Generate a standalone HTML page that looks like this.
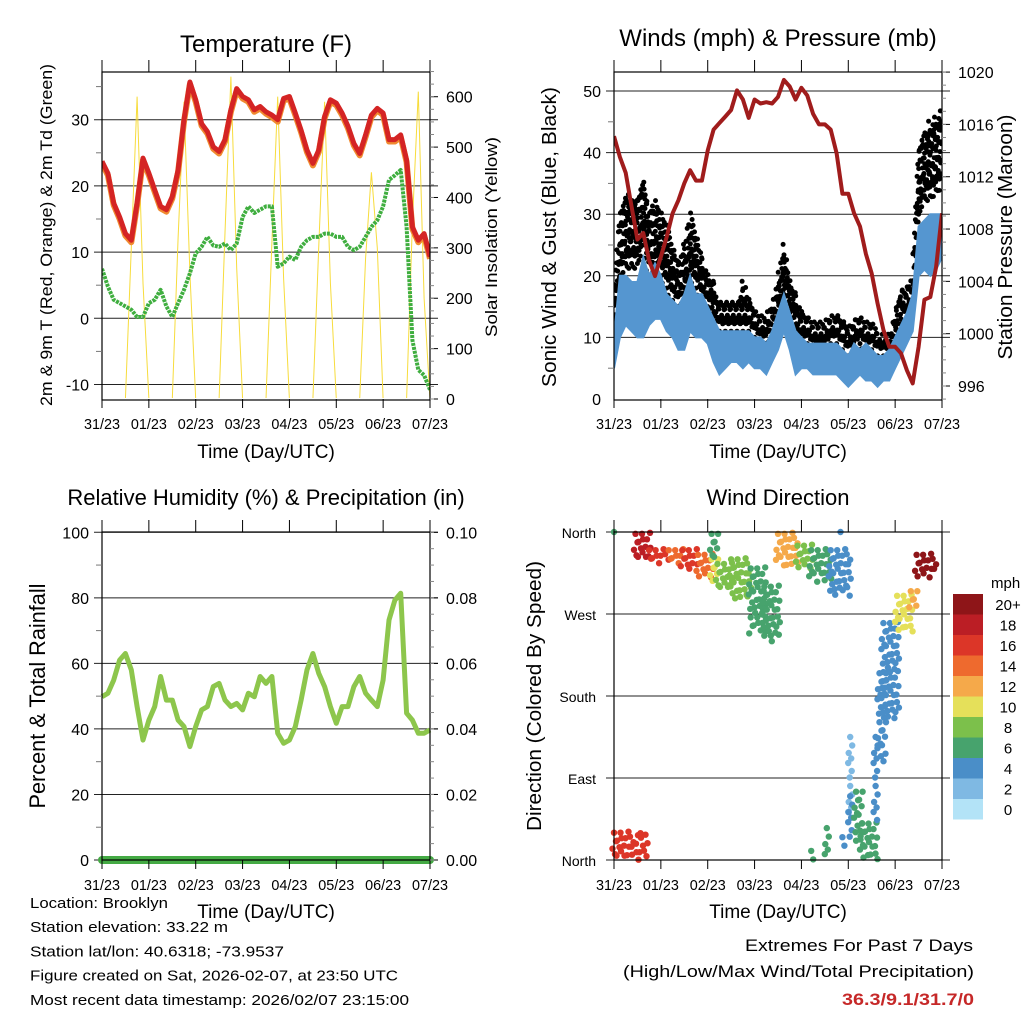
<!DOCTYPE html>
<html><head><meta charset="utf-8"><style>
html,body{margin:0;padding:0;background:#fff;}
svg{display:block;font-family:"Liberation Sans",Arial,sans-serif;}
</style></head><body>
<svg id="fig" width="1024" height="1024" viewBox="0 0 1024 1024" xmlns="http://www.w3.org/2000/svg"></svg>
<script>
// ---- Data (sampled every 3 hours, t = 0..168 h from 31/23 UTC) ----
const dayLabels = ["31/23","01/23","02/23","03/23","04/23","05/23","06/23","07/23"];
const temp2m = [23.7,21.9,17.4,15.3,12.8,11.8,17.4,24.2,21.9,19.4,16.9,16.4,18.4,22.4,30,35.7,33,29.4,28.2,25.9,25.2,27,31.5,34.7,33.5,33,31.5,32,31.2,30.7,30,33.2,33.5,31,28.4,25.4,23.4,25.4,30.5,33,32.5,31,29,26.4,24.9,27.7,30.7,31.7,31,27,27,27.7,23.9,13.8,11.8,12.8,9.3];
const dewpt = [7.5,4.8,2.8,2.3,1.8,1.3,0.2,0.2,2.3,2.8,4.3,1.8,0.2,2.3,4.3,6.8,9.8,10.8,12.3,11,10.8,11.3,10.3,11.3,15.3,16.9,15.9,16.4,16.9,16.9,7.8,8.3,9.3,8.8,10.8,11.8,12.3,12.3,12.8,12.8,12.3,12.3,10.8,10.3,10.8,12.3,13.8,14.8,16.9,20.9,21.6,22.4,13.8,-3.3,-7.8,-8.6,-10.8];
const solar = [0,0,0,0,0,300,600,230,0,0,0,0,0,320,590,250,0,0,0,0,0,330,640,260,0,0,0,0,0,310,600,240,0,0,0,0,0,300,590,230,0,0,0,0,0,280,450,300,0,0,0,0,0,350,610,200,0];
const windLo = [5,10,12,11,10,10,12,13,13,11,10,8,8,11,10,10,9,6,4,5,6,6,5,6,5,5,4,6,8,11,8,4,5,5,4,4,4,4,4,3,2,3,4,3,3,2,3,3,5,7,9,11,20,21,20,21,23];
const windHi = [10,20,20,19,19,23,20,22,20,17,16,15,17,20,17,17,15,13,11,11,11,11,11,11,10,10,9,11,14,17,14,11,10,9,9,9,9,9,9,8,7,9,8,9,8,7,7,8,10,12,14,17,28,29,30,30,30];
const gustLo = [10,20,22,22,22,25,20,22,20,18,16,15,17,20,18,16,15,12,11,11,11,11,11,11,10,9,9,11,13,17,14,10,9,9,8,8,8,9,9,8,7,8,9,8,8,7,7,7,9,13,13,14,30,33,33,34,35];
const gustHi = [17,30,34,33,33,36,30,32,30,28,25,22,25,30,27,23,21,19,16,16,16,16,19,17,14,13,13,15,20,25,20,17,15,13,12,12,12,13,14,13,12,13,13,12,12,11,10,10,14,18,19,20,41,44,45,46,47];
const pressure = [1015.1,1013.5,1012.3,1009.7,1007.2,1007.7,1005.6,1004.4,1005.9,1007.4,1009.2,1010.2,1011.5,1012.5,1011.7,1011.7,1014,1015.6,1016.1,1016.6,1017.1,1018.6,1017.9,1016.5,1017.9,1017.6,1017.7,1017.6,1018.1,1019.4,1018.9,1017.9,1018.8,1018.2,1016.8,1016,1016,1015.6,1013.8,1010.7,1010.7,1009.2,1008.2,1006.1,1004.6,1002.3,1000.3,999,999,998.5,997.2,996.2,999,1002.6,1002.8,1005.1,1009.2];
const rh = [49.8,50.9,54.9,61,63,58,46.8,36.6,42.7,46.8,56,48.8,48.8,42.7,40.7,34.6,40.7,45.8,46.8,52.9,53.9,48.8,46.8,47.8,45.8,50.9,49.8,56,53.9,56,38.7,35.6,36.6,40.7,48.8,58,63,57,52.9,46.8,41.7,46.8,46.8,52.9,56,50.9,48.8,46.8,54.9,73.2,79.3,81.4,44.8,42.7,38.7,38.7,39.7];
const precip = [0,0,0,0,0,0,0,0,0,0,0,0,0,0,0,0,0,0,0,0,0,0,0,0,0,0,0,0,0,0,0,0,0,0,0,0,0,0,0,0,0,0,0,0,0,0,0,0,0,0,0,0,0,0,0,0,0];
// wind-direction clusters: start hour, end hour, low deg, high deg, speed mph
const dirT0 = [0,11,18,28,35,43,50,50,53,60,70,77,84,94,101,111,116,0,101,109,117,121,121,124,127,134,136,138,145,152,155];
const dirT1 = [1,18,28,35,43,50,53,53,60,70,77,84,94,101,111,121,118,18,102,111,118,122,122,127,134,136,139,145,152,155,166];
const dirLo = [358,330,325,325,320,310,305,330,295,285,250,240,320,320,305,290,355,2,0,0,10,50,20,20,0,40,110,155,250,275,310];
const dirHi = [360,358,340,340,340,335,330,358,325,330,320,300,358,345,340,340,360,30,10,35,25,135,70,75,40,135,205,260,290,295,335];
const dirSpd = [6,19,17,14,17,14,11,7,9,8,6,7,13,9,6,5,4,17,7,7,4,2,5,6,7,4,4,5,10,13,20];
const legendLabels = ["20+","18","16","14","12","10","8","6","4","2","0"];
const legendColors = ["#8e1518","#bb1e25","#dc3628","#ee6a2e","#f5a94a","#e5e05a","#7cc04b","#47a36d","#4a8ec8","#7fb9e3","#b3e3f7"];

const NS = "http://www.w3.org/2000/svg";
const svg = document.getElementById("fig");
function el(tag, attrs, parent, text){
  const e = document.createElementNS(NS, tag);
  for (const k in attrs) e.setAttribute(k, attrs[k]);
  if (text !== undefined) e.textContent = text;
  (parent || svg).appendChild(e);
  return e;
}
const W = 328, H = 327, HOURS = 168;
const tAt = i => i*3;
function spdColor(s){ let idx = Math.min(10, Math.floor(s/2)); return legendColors[10-idx]; }

function panel(name){
  const g = el("g", {});
  
  
  return g;
}
function xAxis(g, x0, yb, ytop){
  const ax = el("g", {}, g);
  
  
  for (let d=0; d<8; d++){
    const x = x0 + d*W/7;
    el("line",{x1:x,y1:ytop-12,x2:x,y2:ytop,stroke:"#000","stroke-width":1},ax);
    el("line",{x1:x,y1:yb,x2:x,y2:yb+9,stroke:"#000","stroke-width":1},ax);
    const t = el("text",{x:x,y:yb+30,"text-anchor":"middle","font-size":15,textLength:36,lengthAdjust:"spacingAndGlyphs"},ax,dayLabels[d]);
    
    
  }
}
function frame(g, x0, y0){
  el("rect",{x:x0,y:y0,width:W,height:H+1,fill:"none",stroke:"#000","stroke-width":1.2},g);
}
function grid(g, x0, vals, yf){
  for (const v of vals){ const y=yf(v);
    el("line",{x1:x0-8,y1:y,x2:x0+W+8,y2:y,stroke:"#222","stroke-width":1},g); }
}
function leftTicks(g, x0, majors, labels, minors, yf){
  const ax = el("g",{},g);
  
  
  majors.forEach((v,i)=>{ const y=yf(v);
    const t=el("text",{x:x0-13,y:y+6,"text-anchor":"end","font-size":16},ax,labels[i]);
    
    
  });
  minors.forEach(v=>{ const y=yf(v); el("line",{x1:x0-6,y1:y,x2:x0,y2:y,stroke:"#777","stroke-width":1},ax); });
}
function rightTicks(g, xr, majors, labels, minors, yf){
  const ax = el("g",{},g);
  
  
  majors.forEach((v,i)=>{ const y=yf(v);
    el("line",{x1:xr,y1:y,x2:xr+8,y2:y,stroke:"#000","stroke-width":1},ax);
    const t=el("text",{x:xr+16,y:y+6,"text-anchor":"start","font-size":16},ax,labels[i]);
    
    
  });
  minors.forEach(v=>{ const y=yf(v); el("line",{x1:xr,y1:y,x2:xr+4,y2:y,stroke:"#888","stroke-width":1},ax); });
}
function title(txt, x, y, size, name){
  const t = el("text",{x:x,y:y,"text-anchor":"middle","font-size":size},svg,txt);
  
  
}
function vlabel(g, txt, x, y, size, name, len){
  const a = {x:0,y:0,"text-anchor":"middle","font-size":size,transform:`translate(${x},${y}) rotate(-90)`};
  if (len){ a.textLength=len; a.lengthAdjust="spacingAndGlyphs"; }
  const t = el("text",a,g,txt);
  
  
}
function linePath(arr, xf, yf){ return arr.map((v,i)=>(i?"L":"M")+xf(tAt(i)).toFixed(1)+","+yf(v).toFixed(1)).join(""); }
function range(a,b,s){ const r=[]; for(let v=a; v<=b+1e-9; v+=s) r.push(+v.toFixed(4)); return r; }

// ===== Panel 1: Temperature =====
{
  const x0=102, y0=72;
  const g = panel("temperature-panel");
  const xf = t => x0 + t*W/HOURS;
  const yT = v => 318.3 - v*6.62;
  const yS = s => 399 - s*0.5038;
  title("Temperature (F)", 266, 52, 24, "temperature-title");
  grid(g, x0, [30,20,10,0,-10], yT);
  const cl = el("clipPath",{id:"c1"},g); el("rect",{x:x0,y:y0,width:W,height:H-1},cl);
  const pg = el("g",{"clip-path":"url(#c1)"},g);
  const s = el("path",{d:linePath(solar,xf,yS),fill:"none",stroke:"#f7dc3c","stroke-width":1},pg);
  
  
  const o = el("path",{d:linePath(temp2m.map(v=>v-0.3),xf,yT),fill:"none",stroke:"#f08a30","stroke-width":6,"stroke-linejoin":"round"},pg);
  
  
  const r = el("path",{d:linePath(temp2m,xf,yT),fill:"none",stroke:"#d42424","stroke-width":5,"stroke-linejoin":"round"},pg);
  
  
  const gr = el("path",{d:linePath(dewpt,xf,yT),fill:"none",stroke:"#3fae3f","stroke-width":4,"stroke-linejoin":"round","stroke-dasharray":"3 1"},pg);
  
  
  frame(g,x0,y0);
  xAxis(g,x0,399,72);
  leftTicks(g,x0,[30,20,10,0,-10],["30","20","10","0","-10"],[35,25,15,5,-5],yT);
  rightTicks(g,x0+W,[0,100,200,300,400,500,600],["0","100","200","300","400","500","600"],range(0,650,25),yS);
  vlabel(g,"2m & 9m T (Red, Orange) & 2m Td (Green)",52,235,17,"temp-y-axis-title",342);
  vlabel(g,"Solar Insolation (Yellow)",497,237,17,"solar-y-axis-title",200);
  const xt = el("text",{x:266,y:458,"text-anchor":"middle","font-size":19},g,"Time (Day/UTC)");
  
  
}

// ===== Panel 2: Winds & Pressure =====
{
  const x0=614, y0=72;
  const g = panel("wind-pressure-panel");
  const xf = t => x0 + t*W/HOURS;
  const yW = v => 399 - v*6.16;
  const yP = p => 386 - (p-996)*13.08;
  title("Winds (mph) & Pressure (mb)", 778, 46, 24, "winds-title");
  grid(g, x0, [50,40,30,20,10], yW);
  const cl = el("clipPath",{id:"c2"},g); el("rect",{x:x0,y:y0,width:W,height:H+1},cl);
  const pg = el("g",{"clip-path":"url(#c2)"},g);
  const gg = el("g",{},pg);
  
  
  const jit=[0,0.7,-0.5,0.3,-0.8,0.5,-0.2];
  for (let i=0;i<gustLo.length-1;i++){
    for (let s=0;s<6;s++){
      const f=s/6, t=tAt(i)+3*f;
      const lo=gustLo[i]+(gustLo[i+1]-gustLo[i])*f, hi=gustHi[i]+(gustHi[i+1]-gustHi[i])*f;
      let n=0;
      for (let v=lo+((s%2)*0.9); v<=hi; v+=1.9, n++){
        el("circle",{cx:(xf(t)+jit[(n+s)%7]).toFixed(1),cy:yW(v+jit[(n*3+s)%7]).toFixed(1),r:2.5,fill:"#000"},gg);
      }
    }
  }
  let d = "";
  windHi.forEach((v,i)=>{ d += (i?"L":"M")+xf(tAt(i)).toFixed(1)+","+yW(v).toFixed(1); });
  for (let i=windLo.length-1;i>=0;i--) d += "L"+xf(tAt(i)).toFixed(1)+","+yW(windLo[i]).toFixed(1);
  const wb = el("path",{d:d+"Z",fill:"#5596d0",stroke:"#5596d0","stroke-width":2},pg);
  
  
  const pl = el("path",{d:linePath(pressure,xf,yP),fill:"none",stroke:"#a01c1c","stroke-width":4,"stroke-linejoin":"round"},pg);
  
  
  frame(g,x0,y0);
  xAxis(g,x0,399,72);
  leftTicks(g,x0,[0,10,20,30,40,50],["0","10","20","30","40","50"],[5,15,25,35,45],yW);
  rightTicks(g,x0+W,[996,1000,1004,1008,1012,1016,1020],["996","1000","1004","1008","1012","1016","1020"],range(995,1020,1),yP);
  vlabel(g,"Sonic Wind & Gust (Blue, Black)",556,237,20,"wind-y-axis-title",300);
  vlabel(g,"Station Pressure (Maroon)",1012,237,20,"pressure-y-axis-title",245);
  const xt = el("text",{x:778,y:458,"text-anchor":"middle","font-size":19},g,"Time (Day/UTC)");
  
  
}

// ===== Panel 3: RH & Precip =====
{
  const x0=102, y0=532;
  const g = panel("humidity-panel");
  const xf = t => x0 + t*W/HOURS;
  const yR = v => 860 - v*3.277;
  const yPr = v => 860 - v*3277;
  title("Relative Humidity (%) & Precipitation (in)", 266, 505, 22, "humidity-title");
  grid(g, x0, [100,80,60,40,20,0], yR);
  const rl = el("path",{d:linePath(rh,xf,yR),fill:"none",stroke:"#8dc64c","stroke-width":5,"stroke-linejoin":"round"},g);
  
  
  const pr = el("path",{d:linePath(precip,xf,yPr),fill:"none",stroke:"#44aa44","stroke-width":8,"stroke-linecap":"round"},g);
  
  
  frame(g,x0,y0);
  xAxis(g,x0,860,532);
  leftTicks(g,x0,[0,20,40,60,80,100],["0","20","40","60","80","100"],[10,30,50,70,90],yR);
  rightTicks(g,x0+W,[0,0.02,0.04,0.06,0.08,0.1],["0.00","0.02","0.04","0.06","0.08","0.10"],range(0,0.1,0.005),yPr);
  vlabel(g,"Percent & Total Rainfall",45,696,22,"humidity-y-axis-title",225);
  const xt = el("text",{x:266,y:918,"text-anchor":"middle","font-size":19},g,"Time (Day/UTC)");
  
  
}

// ===== Panel 4: Wind direction =====
{
  const x0=614, y0=532;
  const g = panel("wind-direction-panel");
  const xf = t => x0 + t*W/HOURS;
  const yD = v => 860 - v*328/360;
  title("Wind Direction", 778, 505, 22, "wind-direction-title");
  grid(g, x0, [360,270,180,90,0], yD);
  const dg = el("g",{},g);
  
  
  const jx=[0,2,-1.5,1,-2,1.5,-0.5], jy=[0,-2,1.5,-1,2,-1.5,0.5];
  for (let c=0;c<dirT0.length;c++){
    const col = spdColor(dirSpd[c]);
    const x1=xf(dirT0[c]), x2=xf(dirT1[c]);
    let k=0;
    for (let x=x1; x<=x2+0.1; x+=4.5, k++){
      const y1=yD(dirHi[c]), y2=yD(dirLo[c]);
      let n=0;
      for (let y=y1+(k%3)*2; y<=y2; y+=7, n++){
        el("circle",{cx:(x+jx[(n+k)%7]).toFixed(1),cy:(y+jy[(n*2+k)%7]).toFixed(1),r:3.2,fill:col},dg);
      }
    }
  }
  frame(g,x0,y0);
  xAxis(g,x0,860,532);
  const ax = el("g",{},g);
  
  
  [["North",360],["West",270],["South",180],["East",90],["North",0]].forEach(([n,v])=>{
    const t=el("text",{x:x0-18,y:yD(v)+6,"text-anchor":"end","font-size":14},ax,n);
    
    
  });
  vlabel(g,"Direction (Colored By Speed)",541,696,20,"direction-y-axis-title",270);
  const xt = el("text",{x:778,y:918,"text-anchor":"middle","font-size":19},g,"Time (Day/UTC)");
  
  
  const lg = el("g",{},svg);
  
  
  const lt = el("text",{x:991,y:588,"font-size":15},lg,"mph");
  
  
  legendLabels.forEach((lab,i)=>{
    const y = 594 + i*20.5;
    const r = el("rect",{x:953,y:y,width:30,height:20.5,fill:legendColors[i]},lg);
    
    
    const t = el("text",{x:1008,y:y+16,"text-anchor":"middle","font-size":15},lg,lab);
    
    
  });
}

// ===== Footer text =====
{
  const fg = el("g",{},svg);
  
  
  const lines = [["Location: Brooklyn",138],["Station elevation: 33.22 m",198],["Station lat/lon: 40.6318; -73.9537",254],["Figure created on Sat, 2026-02-07, at 23:50 UTC",368],["Most recent data timestamp: 2026/02/07 23:15:00",379]];
  lines.forEach(([s,w],i)=>{
    const t=el("text",{x:30,y:908+i*24.2,"font-size":15,textLength:w,lengthAdjust:"spacingAndGlyphs"},fg,s);
    
    
  });
  const eg = el("g",{},svg);
  
  
  const a=el("text",{x:973,y:951,"text-anchor":"end","font-size":17,textLength:228,lengthAdjust:"spacingAndGlyphs"},eg,"Extremes For Past 7 Days");
  
  
  const b=el("text",{x:974,y:977,"text-anchor":"end","font-size":17,textLength:351,lengthAdjust:"spacingAndGlyphs"},eg,"(High/Low/Max Wind/Total Precipitation)");
  
  
  const c=el("text",{x:974,y:1005,"text-anchor":"end","font-size":17,"font-weight":"bold",fill:"#c62828",textLength:132,lengthAdjust:"spacingAndGlyphs"},eg,"36.3/9.1/31.7/0");
  
  
}
</script>
</body></html>
